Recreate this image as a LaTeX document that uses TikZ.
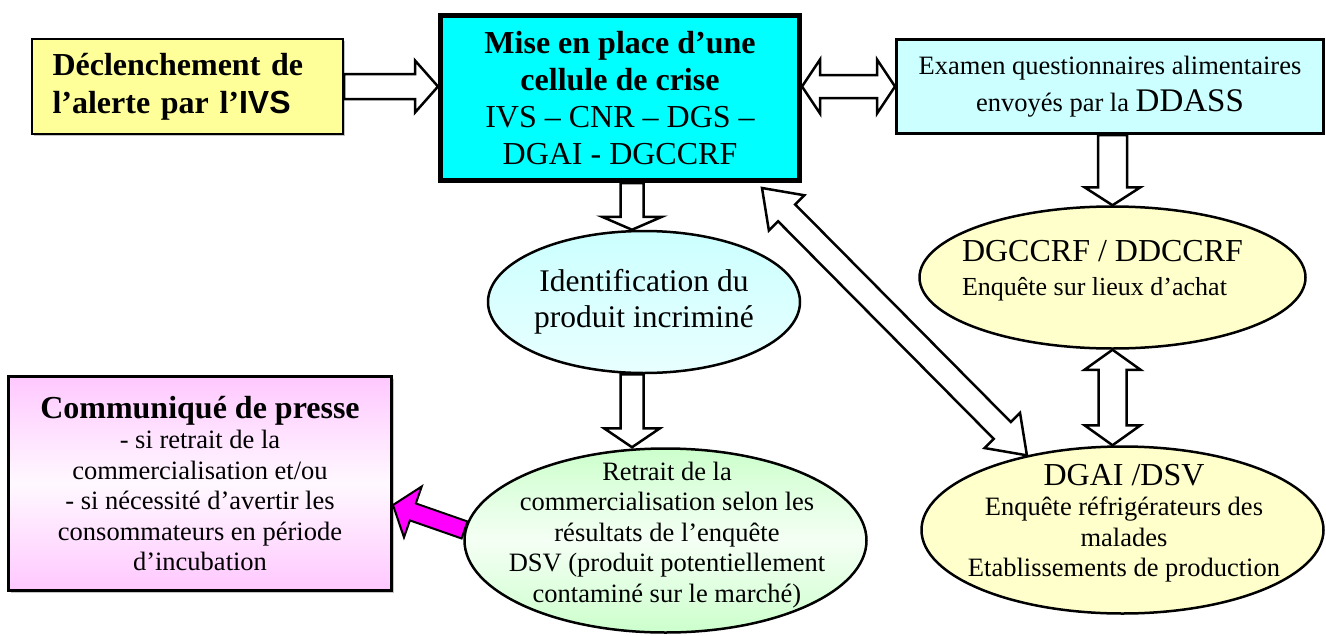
\documentclass[tikz,border=0pt]{standalone}
\usepackage{fontspec}
\setmainfont{Liberation Serif}
\setsansfont{Liberation Sans}
\usetikzlibrary{calc,shapes.geometric,shadows}

\definecolor{alertyellow}{HTML}{FFFF99}
\definecolor{cellcyan}{HTML}{00FFFF}
\definecolor{palecyan}{HTML}{CCFFFF}
\definecolor{palegreen}{HTML}{CCFFCC}
\definecolor{paleyellow}{HTML}{FFFFCC}
\definecolor{palepink}{HTML}{FFC8FF}
\definecolor{pressmagenta}{HTML}{FF00FF}

\tikzset{
  box/.style={draw=black, rectangle, inner sep=0pt, align=center},
  oval/.style={draw=black, ellipse, line width=2.5pt, inner sep=0pt},
  shadowed/.style={drop shadow={shadow xshift=2pt, shadow yshift=-2pt, fill=black!45}},
  %hollow block arrow: half shaft, half head, head length
  bigarrow/.style n args={3}{draw=black, fill=white, line width=2.5pt, line join=miter,
    to path={let \p1=(\tikztostart), \p2=(\tikztotarget),
      \n1={atan2(\y2-\y1,\x2-\x1)}, \n2={veclen(\x2-\x1,\y2-\y1)} in
      ([shift={(\p1)},rotate=\n1]0pt,#1pt)
      -- ([shift={(\p1)},rotate=\n1]{\n2*1pt-#3pt},#1pt)
      -- ([shift={(\p1)},rotate=\n1]{\n2*1pt-#3pt},#2pt)
      -- (\p2)
      -- ([shift={(\p1)},rotate=\n1]{\n2*1pt-#3pt},-#2pt)
      -- ([shift={(\p1)},rotate=\n1]{\n2*1pt-#3pt},-#1pt)
      -- ([shift={(\p1)},rotate=\n1]0pt,-#1pt) -- cycle}},
  bigdarrow/.style n args={3}{draw=black, fill=white, line width=2.5pt, line join=miter,
    to path={let \p1=(\tikztostart), \p2=(\tikztotarget),
      \n1={atan2(\y2-\y1,\x2-\x1)}, \n2={veclen(\x2-\x1,\y2-\y1)} in
      (\p1)
      -- ([shift={(\p1)},rotate=\n1]#3pt,#2pt)
      -- ([shift={(\p1)},rotate=\n1]#3pt,#1pt)
      -- ([shift={(\p1)},rotate=\n1]{\n2*1pt-#3pt},#1pt)
      -- ([shift={(\p1)},rotate=\n1]{\n2*1pt-#3pt},#2pt)
      -- (\p2)
      -- ([shift={(\p1)},rotate=\n1]{\n2*1pt-#3pt},-#2pt)
      -- ([shift={(\p1)},rotate=\n1]{\n2*1pt-#3pt},-#1pt)
      -- ([shift={(\p1)},rotate=\n1]#3pt,-#1pt)
      -- ([shift={(\p1)},rotate=\n1]#3pt,-#2pt) -- cycle}}
}

\begin{document}
\begin{tikzpicture}[x=1pt,y=-1pt]
        \path[fill=white] (0,0) rectangle (1326,635);
        \useasboundingbox (0,0) rectangle (1326,635);
        %top row
        \node[box, shadowed, line width=2pt, fill=alertyellow, minimum width=311pt, minimum height=95pt,
              text width=270pt, align=left, font=\bfseries\fontsize{32}{38}\selectfont] (ivs) at (187.5,86.5)
              {Déclenchement de\\l’alerte par l’{\sffamily IVS}};
        \node[box, line width=5pt, fill=cellcyan, minimum width=359pt, minimum height=165pt,
              font=\fontsize{32}{37}\selectfont] (cellule) at (620,98)
              {\textbf{Mise en place d’une}\\\textbf{cellule de crise}\\IVS – CNR – DGS –\\DGAI - DGCCRF};
        \node[box, line width=3pt, fill=palecyan, minimum width=427pt, minimum height=94pt,
              font=\fontsize{26.5}{37}\selectfont] (examen) at (1110,86.5)
              {Examen questionnaires alimentaires\\envoyés par la {\fontsize{33}{37}\selectfont DDASS}};
        %middle column
        \node[oval, top color=palecyan, bottom color=palecyan!45, minimum width=312pt, minimum height=142pt] (ident) at (644,302) {};
        \node[align=center, font=\fontsize{31.5}{36}\selectfont] (identtxt) at (ident.center) {Identification du\\produit incriminé};
        \node[oval, top color=palegreen, bottom color=palegreen, middle color=palegreen!20, minimum width=402pt, minimum height=184pt] (retrait) at (665.5,540.5) {};
        \node[align=center, font=\fontsize{26.5}{30.5}\selectfont] (retraittxt) at (667,535)
              {Retrait de la\\commercialisation selon les\\résultats de l’enquête\\DSV (produit potentiellement\\contaminé sur le marché)};
        %right column
        \node[oval, fill=paleyellow, minimum width=386pt, minimum height=142pt] (dgccrf) at (1112.5,277.5) {};
        \node[align=left, font=\fontsize{26}{34}\selectfont] (dgccrftxt) at (1102.5,271)
              {{\fontsize{32}{34}\selectfont DGCCRF / DDCCRF}\\Enquête sur lieux d’achat};
        \node[oval, fill=paleyellow, minimum width=402pt, minimum height=167pt] (dgai) at (1122.5,530) {};
        \node[align=center, font=\fontsize{26.5}{30.5}\selectfont] (dgaitxt) at (1124,523)
              {{\fontsize{32}{33}\selectfont DGAI /DSV}\\Enquête réfrigérateurs des\\malades\\Etablissements de production};
        %press release
        \node[box, shadowed, line width=3pt, top color=palepink, bottom color=palepink, middle color=palepink!12,
              draw=black, minimum width=383pt, minimum height=214pt, font=\fontsize{26.5}{30.5}\selectfont] (presse) at (200,483.5)
              {{\bfseries\fontsize{32}{33}\selectfont Communiqué de presse}\\- si retrait de la\\commercialisation et/ou\\- si nécessité d’avertir les\\consommateurs en période\\d’incubation};
        %connections
        \draw[bigarrow={12.5}{26}{23}] (ivs.east) to (ivs.east -| cellule.west);
        \draw[bigdarrow={11.5}{27}{18}] (cellule.east |- examen.west) to (examen.west);
        \draw[bigarrow={11.5}{30}{13}] ([xshift=12pt]cellule.south) to ([xshift=12pt]cellule.south |- ident.north);
        \draw[bigarrow={11.5}{28}{19}] ([xshift=-12pt]ident.south) to ([xshift=-12pt]ident.south |- retrait.north);
        \draw[bigarrow={14.5}{28}{18}] (examen.south -| dgccrf.north) to (dgccrf.north);
        \draw[bigdarrow={14}{28}{20}] (dgccrf.south) to (dgccrf.south |- dgai.north);
        \draw[bigdarrow={12}{25}{35}] ([xshift=-40pt,yshift=-5pt]cellule.south east) to (dgai.142);
        %magenta arrow to the press release
        \draw[bigarrow={9}{27}{21}, fill=pressmagenta, line width=2pt] (retrait.177) to ([yshift=-21.5pt]presse.east);
\end{tikzpicture}
\end{document}
